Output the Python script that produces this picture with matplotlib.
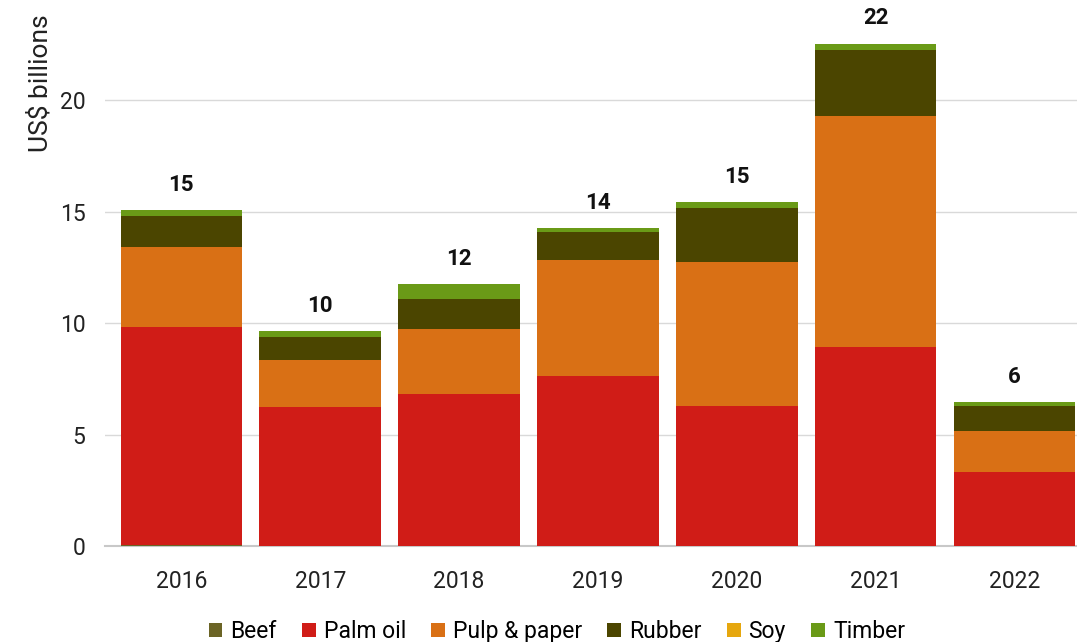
import matplotlib.pyplot as plt
import numpy as np

plt.rcParams['font.family'] = ['Roboto', 'DejaVu Sans']

years = ['2016', '2017', '2018', '2019', '2020', '2021', '2022']
beef = [0.05, 0.0, 0.0, 0.0, 0.0, 0.0, 0.0]
palm_oil = [9.77, 6.23, 6.82, 7.62, 6.28, 8.92, 3.32]
pulp_paper = [3.59, 2.11, 2.91, 5.21, 6.46, 10.36, 1.84]
rubber = [1.39, 1.03, 1.35, 1.25, 2.42, 2.96, 1.12]
soy = [0.0, 0.0, 0.0, 0.0, 0.0, 0.0, 0.0]
timber = [0.27, 0.27, 0.67, 0.18, 0.27, 0.3, 0.18]
total_labels = ['15', '10', '12', '14', '15', '22', '6']

series = [
    ('Beef', beef, '#6b6425'),
    ('Palm oil', palm_oil, '#d01c17'),
    ('Pulp & paper', pulp_paper, '#d97015'),
    ('Rubber', rubber, '#4b4500'),
    ('Soy', soy, '#e6a70e'),
    ('Timber', timber, '#6a9a17'),
]

fig = plt.figure(figsize=(10.77, 6.42), dpi=100)
ax = fig.add_axes([105 / 1077, 96 / 642, 1 - 105 / 1077, 526 / 642])

x = np.arange(len(years))
bottom = np.zeros(len(years))
for name, vals, col in series:
    vals = np.array(vals)
    ax.bar(x, vals, 0.875, bottom=bottom, color=col, label=name, zorder=3)
    bottom += vals

for i in range(len(years)):
    ax.text(x[i], bottom[i] + 0.65, total_labels[i], ha='center', va='bottom',
            fontsize=16, fontweight='bold', color='#111111')

ax.set_xlim(-0.55, 6.45)
ax.set_ylim(0, 23.6)
ax.set_yticks([0, 5, 10, 15, 20])
ax.set_xticks(x)
ax.set_xticklabels(years)
ax.tick_params(length=0, labelsize=16.5, colors='#222222')
ax.tick_params(axis='x', pad=17)
ax.tick_params(axis='y', pad=14)
ax.grid(axis='y', color='#d9d9d9', linewidth=1, zorder=0)
for s in ['top', 'right', 'left']:
    ax.spines[s].set_visible(False)
ax.spines['bottom'].set_color('#c8c8c8')
ax.spines['bottom'].set_linewidth(1.5)

fig.text(0.037, 0.978, 'US$ billions', rotation=90, ha='center', va='top',
         fontsize=19, color='#222222')

fig.legend(loc='lower center', bbox_to_anchor=(0.517, -0.034), ncol=6,
           frameon=False, fontsize=16.5, handlelength=0.6, handleheight=0.6,
           handletextpad=0.35, columnspacing=1.1)

fig.savefig('out.png', dpi=100)
